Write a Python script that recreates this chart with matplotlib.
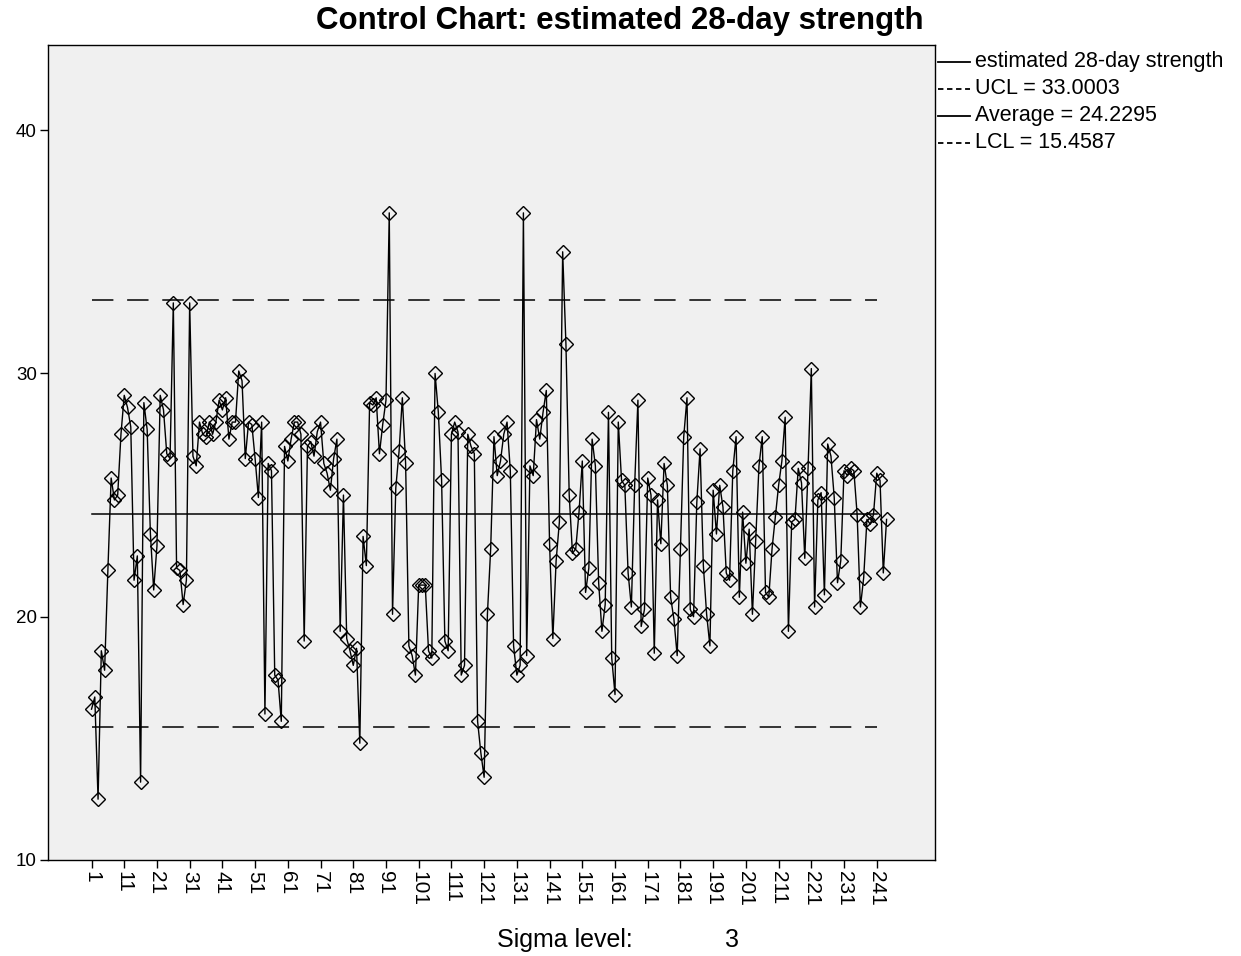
import matplotlib
matplotlib.use("Agg")
import matplotlib.pyplot as plt
from matplotlib.lines import Line2D

plt.rcParams['font.family'] = ['Liberation Sans', 'DejaVu Sans']

# ---- data ----
strength = [
    16.2, 16.7, 12.5, 18.6, 17.8, 21.9, 25.7, 24.8, 25.0, 27.5,
    29.1, 28.6, 27.8, 21.5, 22.5, 13.2, 28.8, 27.7, 23.4, 21.1,
    22.9, 29.1, 28.5, 26.7, 26.5, 32.9, 22.0, 21.9, 20.5, 21.5,
    32.9, 26.6, 26.2, 28.0, 27.5, 27.4, 28.0, 27.5, 28.0, 28.9,
    28.5, 29.0, 27.3, 28.0, 28.0, 30.1, 29.7, 26.5, 28.0, 27.9,
    26.5, 24.9, 28.0, 16.0, 26.3, 26.0, 17.6, 17.4, 15.7, 27.0,
    26.4, 27.3, 28.0, 28.0, 27.5, 19.0, 27.0, 27.2, 26.6, 27.6,
    28.0, 26.3, 25.9, 25.2, 26.5, 27.3, 19.4, 25.0, 19.1, 18.6,
    18.0, 18.7, 14.8, 23.3, 22.1, 28.8, 28.7, 29.0, 26.7, 27.9,
    28.9, 36.6, 20.1, 25.3, 26.8, 29.0, 26.3, 18.8, 18.4, 17.6,
    21.3, 21.3, 21.3, 18.6, 18.3, 30.0, 28.4, 25.6, 19.0, 18.6,
    27.5, 28.0, 27.6, 17.6, 18.0, 27.5, 27.0, 26.7, 15.7, 14.4,
    13.4, 20.1, 22.8, 27.4, 25.8, 26.4, 27.5, 28.0, 26.0, 18.8,
    17.6, 18.0, 36.6, 18.4, 26.2, 25.8, 28.1, 27.3, 28.4, 29.3,
    23.0, 19.1, 22.3, 23.9, 35.0, 31.2, 25.0, 22.6, 22.8, 24.3,
    26.4, 21.0, 22.0, 27.3, 26.2, 21.4, 19.4, 20.5, 28.4, 18.3,
    16.8, 28.0, 25.6, 25.4, 21.8, 20.4, 25.4, 28.9, 19.6, 20.3,
    25.7, 25.0, 18.5, 24.8, 23.0, 26.3, 25.4, 20.8, 19.9, 18.4,
    22.8, 27.4, 29.0, 20.3, 20.0, 24.7, 26.9, 22.1, 20.1, 18.8,
    25.2, 23.4, 25.4, 24.5, 21.8, 21.5, 26.0, 27.4, 20.8, 24.3,
    22.2, 23.6, 20.1, 23.1, 26.2, 27.4, 21.0, 20.8, 22.8, 24.1,
    25.4, 26.4, 28.2, 19.4, 23.9, 24.0, 26.1, 25.5, 22.4, 26.1,
    30.2, 20.4, 24.8, 25.1, 20.9, 27.1, 26.6, 24.9, 21.4, 22.3,
    26.0, 25.8, 26.1, 26.0, 24.2, 20.4, 21.6, 24.0, 23.8, 24.2,
    25.9, 25.6, 21.8, 24.0,
]
ucl = 33.0003
average = 24.2295
lcl = 15.4587
sigma_level = 3
x_tick_values = list(range(1, 242, 10))
y_tick_values = [10, 20, 30, 40]

W, H = 1241, 956
fig = plt.figure(figsize=(W / 100, H / 100), dpi=100)
fig.patch.set_facecolor('white')

# axes box in pixel coords
L, R, T, B = 48, 935, 45, 860
ax = fig.add_axes([L / W, 1 - B / H, (R - L) / W, (B - T) / H])
ax.set_facecolor('#f0f0f0')

n = len(strength)
idx = list(range(1, n + 1))

ax.plot(idx, strength, color='black', lw=1.0, marker='D', ms=7.5,
        mfc='none', mec='black', mew=1.0, zorder=3)
line_end = x_tick_values[-1]
ax.plot([1, line_end], [ucl, ucl], color='black', lw=1.1,
        linestyle=(0, (14, 9)), zorder=2)
ax.plot([1, line_end], [average, average], color='black', lw=1.1, zorder=2)
ax.plot([1, line_end], [lcl, lcl], color='black', lw=1.1,
        linestyle=(0, (14, 9)), zorder=2)

ax.set_xlim(-12.3, 258.8)
ax.set_ylim(10, 43.5)
ax.set_xticks(x_tick_values)
ax.set_xticklabels([str(v) for v in x_tick_values], rotation=270,
                   fontsize=15)
ax.set_yticks(y_tick_values)
ax.set_yticklabels([str(v) for v in y_tick_values], fontsize=13.5)
ax.tick_params(axis='both', direction='out', length=6, width=1,
               colors='black', pad=2)
for sp in ax.spines.values():
    sp.set_color('black')
    sp.set_linewidth(1.0)

fig.text(620 / W, 1 - 21 / H, 'Control Chart: estimated 28-day strength',
         ha='center', va='center', fontsize=22.5, fontweight='bold')

# legend (drawn manually outside right)
items = [
    ('estimated 28-day strength', '-'),
    ('UCL = %.4f' % ucl, (0, (3, 2))),
    ('Average = %.4f' % average, '-'),
    ('LCL = %.4f' % lcl, (0, (3, 2))),
]
ys = [62, 89, 116, 143]
for (label, ls), y in zip(items, ys):
    yf = 1 - y / H
    fig.add_artist(Line2D([938 / W, 970 / W], [yf, yf], color='black',
                          lw=1.3, linestyle=ls, transform=fig.transFigure))
    fig.text(975 / W, yf, label, ha='left', va='center', fontsize=15.5)

fig.text(497 / W, 1 - 940 / H, 'Sigma level:', ha='left', va='center',
         fontsize=18)
fig.text(725 / W, 1 - 940 / H, str(sigma_level), ha='left', va='center',
         fontsize=18)

fig.savefig('out.png', dpi=100, facecolor='white')
